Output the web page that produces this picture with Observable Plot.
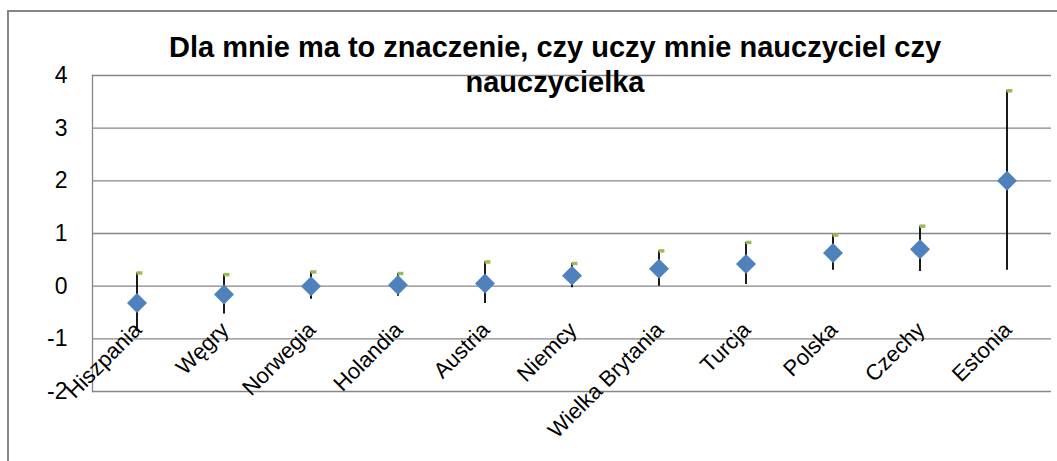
<!DOCTYPE html>
<html><head><meta charset="utf-8">
<script src="https://cdn.jsdelivr.net/npm/d3@7"></script>
<script src="https://cdn.jsdelivr.net/npm/@observablehq/plot@0.6"></script>
<style>
body{margin:0;background:#fff;}
#wrap{position:relative;width:1057px;height:461px;overflow:hidden;font-family:"Liberation Sans",Arial,sans-serif;}
#frame{position:absolute;left:7px;top:10px;width:1100px;height:500px;border:2px solid #868686;box-sizing:border-box;}
#chart{position:absolute;left:0;top:0;}
#title{position:absolute;left:155px;width:800px;top:30px;text-align:center;font:bold 29px/35px "Liberation Sans",Arial,sans-serif;color:#000;white-space:nowrap;}
</style></head>
<body><div id="wrap"><div id="frame"></div><div id="chart"></div><div id="title"></div></div>
<script>
const titleLines = ["Dla mnie ma to znaczenie, czy uczy mnie nauczyciel czy", "nauczycielka"];
const countries = ["Hiszpania","Węgry","Norwegia","Holandia","Austria","Niemcy","Wielka Brytania","Turcja","Polska","Czechy","Estonia"];
const means = [-0.32,-0.16,0.00,0.02,0.05,0.20,0.33,0.42,0.63,0.70,2.00];
const lows  = [-0.86,-0.53,-0.25,-0.19,-0.33,-0.03,0.00,0.03,0.30,0.28,0.30];
const highs = [0.25,0.22,0.27,0.24,0.46,0.43,0.67,0.83,0.97,1.14,3.71];
const yTicks = [-2,-1,0,1,2,3,4];

const t = document.getElementById("title");
titleLines.forEach((s,i)=>{ if(i) t.appendChild(document.createElement("br")); t.appendChild(document.createTextNode(s)); });

const rows = countries.map((c,i)=>({country:c, mean:means[i], lo:lows[i], hi:highs[i]}));

const diamond = {draw(ctx, size){ const r = Math.sqrt(size)*0.62625; ctx.moveTo(0,-r); ctx.lineTo(r,0); ctx.lineTo(0,r); ctx.lineTo(-r,0); ctx.closePath(); }};

const W = 1057, ML = 92, MR = 6;
const bw = (W - ML - MR) / countries.length;

const plot = Plot.plot({
  width:W, height:461,
  marginLeft:ML, marginRight:MR, marginTop:75, marginBottom:70,
  style:{background:"transparent", fontFamily:"'Liberation Sans', Arial, sans-serif", fontSize:"22px", color:"#000", overflow:"visible"},
  x:{type:"band", domain:countries, padding:0, axis:null},
  y:{domain:[-2,4], axis:null},
  marks:[
    Plot.gridY(yTicks,{stroke:"#868686", strokeOpacity:1, strokeWidth:1.3}),
    Plot.frame({anchor:"left", stroke:"#868686", strokeWidth:1.3}),
    Plot.axisY(yTicks,{tickSize:0, tickPadding:25, fontSize:23, fill:"#000", tickFormat:d=>String(d), label:null}),
    Plot.ruleX(rows,{x:"country", y1:"lo", y2:"hi", stroke:"#000", strokeWidth:1.8}),
    Plot.tickY(rows,{x:"country", y:"hi", stroke:"#9BBB59", strokeWidth:3.5, insetLeft:bw/2, insetRight:bw/2-6}),
    Plot.text(rows,{x:"country", y:()=>0, text:"country", rotate:-45, textAnchor:"end", lineAnchor:"middle", dx:1, dy:40, fontSize:22, fill:"#000"}),
    Plot.dot(rows,{x:"country", y:"mean", r:9, symbol:diamond, fill:"#4F81BD", stroke:"none"})
  ]
});
document.getElementById("chart").appendChild(plot);
</script>
</body></html>
